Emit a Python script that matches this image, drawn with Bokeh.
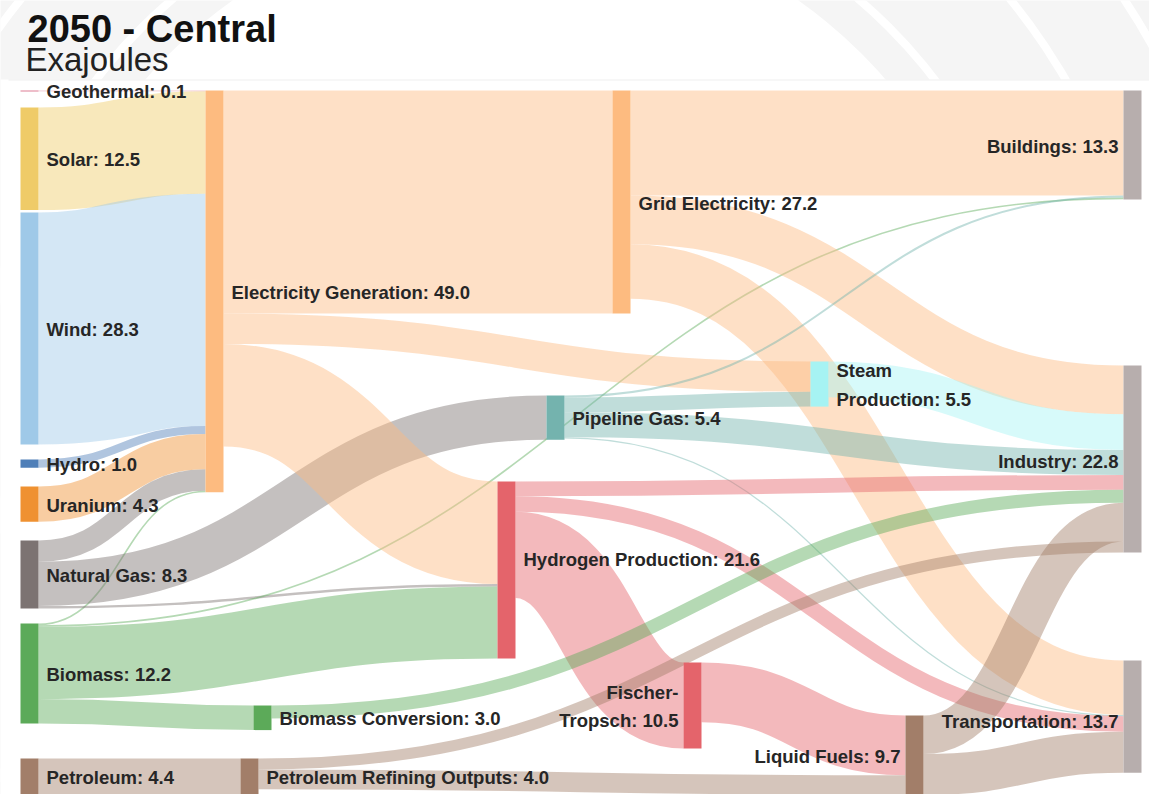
import numpy as np
from bokeh.plotting import figure
from bokeh.models import Range1d
from bokeh.embed import file_html
from bokeh.resources import INLINE
from bokeh.core.properties import value

# ---------------- data ----------------
title_text = "2050 - Central"
subtitle_text = "Exajoules"

node_names = ["Geothermal", "Solar", "Wind", "Hydro", "Uranium", "Natural Gas", "Biomass", "Petroleum",
              "Electricity Generation", "Biomass Conversion", "Petroleum Refining Outputs",
              "Hydrogen Production", "Pipeline Gas", "Grid Electricity", "Fischer-Tropsch",
              "Steam Production", "Liquid Fuels", "Buildings", "Industry", "Transportation"]
node_values = [0.1, 12.5, 28.3, 1.0, 4.3, 8.3, 12.2, 4.4,
               49.0, 3.0, 4.0,
               21.6, 5.4, 27.2, 10.5,
               5.5, 9.7, 13.3, 22.8, 13.7]

link_sources = ["Geothermal", "Solar", "Wind", "Hydro", "Uranium", "Natural Gas", "Biomass",
                "Natural Gas", "Natural Gas", "Biomass", "Biomass", "Biomass", "Petroleum",
                "Electricity Generation", "Electricity Generation", "Electricity Generation",
                "Grid Electricity", "Grid Electricity", "Grid Electricity",
                "Pipeline Gas", "Pipeline Gas", "Pipeline Gas", "Pipeline Gas",
                "Steam Production", "Hydrogen Production", "Hydrogen Production", "Hydrogen Production",
                "Biomass Conversion", "Fischer-Tropsch", "Petroleum Refining Outputs",
                "Petroleum Refining Outputs", "Liquid Fuels", "Liquid Fuels"]
link_targets = ["Electricity Generation"] * 7 + [
                "Pipeline Gas", "Hydrogen Production", "Buildings", "Hydrogen Production", "Biomass Conversion",
                "Petroleum Refining Outputs",
                "Grid Electricity", "Steam Production", "Hydrogen Production",
                "Buildings", "Industry", "Transportation",
                "Buildings", "Steam Production", "Industry", "Transportation",
                "Industry", "Industry", "Transportation", "Fischer-Tropsch",
                "Industry", "Liquid Fuels", "Liquid Fuels",
                "Industry", "Industry", "Transportation"]
link_values = [0.1, 12.5, 28.3, 1.0, 4.3, 2.6, 0.2,
               5.4, 0.3, 0.2, 8.8, 3.0, 4.4,
               27.2, 3.7, 12.5,
               12.8, 5.95, 6.65,
               0.25, 1.8, 3.05, 0.15,
               4.35, 1.8, 1.9, 10.5,
               1.6, 7.3, 2.4,
               1.35, 4.7, 5.0]

# ---------------- styling / layout ----------------
node_colors = {
    "Geothermal": "#DE7F95", "Solar": "#EFCB68", "Wind": "#9FC9E8", "Hydro": "#4F7FB8",
    "Uranium": "#EF9131", "Natural Gas": "#7C7372", "Biomass": "#5CAA59", "Petroleum": "#A27E69",
    "Electricity Generation": "#FDBB80", "Biomass Conversion": "#5CAA59",
    "Petroleum Refining Outputs": "#A27E69", "Hydrogen Production": "#E4646B",
    "Pipeline Gas": "#74B3AE", "Grid Electricity": "#FDBB80", "Fischer-Tropsch": "#E4646B",
    "Steam Production": "#A6F3F3", "Liquid Fuels": "#A27E69", "Buildings": "#B7AEAD",
    "Industry": "#B7AEAD", "Transportation": "#B7AEAD",
}
node_pos = {  # (left x, top y) in page pixels
    "Geothermal": (20, 90), "Solar": (20, 107), "Wind": (20, 212), "Hydro": (20, 459),
    "Uranium": (20, 486), "Natural Gas": (20, 540), "Biomass": (20, 623), "Petroleum": (20, 758),
    "Electricity Generation": (205, 90), "Biomass Conversion": (253, 705),
    "Petroleum Refining Outputs": (240, 758), "Hydrogen Production": (497, 481),
    "Pipeline Gas": (546, 395), "Grid Electricity": (612, 90), "Fischer-Tropsch": (683, 662),
    "Steam Production": (810, 361), "Liquid Fuels": (905, 715), "Buildings": (1123, 90),
    "Industry": (1123, 365), "Transportation": (1123, 660),
}
label_dy = {"Hydrogen Production": -12, "Transportation": 4, "Industry": 2}
left_side_labels = {"Buildings", "Industry", "Transportation", "Fischer-Tropsch", "Liquid Fuels"}
label_breaks = {"Steam Production": "Steam\nProduction", "Fischer-Tropsch": "Fischer-\nTropsch"}

W, H = 1149, 794
XS, XE = 0, 1149
YS, YE = 794, 0
K = 8.2        # pixels per exajoule
NW = 18        # node bar width
LINK_ALPHA = 0.45
px_per_unit = H / (YS - YE)
FONT = "Liberation Sans"

p = figure(width=W, height=H, x_range=Range1d(XS, XE), y_range=Range1d(YS, YE),
           output_backend="svg", toolbar_location=None, min_border=0,
           x_axis_location=None, y_axis_location=None, outline_line_color=None,
           background_fill_color="white", border_fill_color="white")
p.grid.visible = False

# faint watermark in the header
p.annulus(x=[515], y=[400], inner_radius=490, outer_radius=820, fill_color="#F5F5F5", line_color=None)
for r in (528, 637, 729):
    p.annulus(x=[515], y=[400], inner_radius=r - 4, outer_radius=r + 4, fill_color="white", line_color=None)
p.quad(left=[0], right=[1160], top=[79], bottom=[800], fill_color="white", line_color=None)
p.segment(x0=[8], y0=[79.5], x1=[1149], y1=[79.5], line_color="#EFEFEF", line_width=1)

# ---------------- sankey geometry ----------------
inflow = {n: 0.0 for n in node_names}
outflow = {n: 0.0 for n in node_names}
for s, t, v in zip(link_sources, link_targets, link_values):
    outflow[s] += v
    inflow[t] += v
node_h = {n: max(v, inflow[n], outflow[n]) * K for n, v in zip(node_names, node_values)}

idx = range(len(link_values))
sy, ty = {}, {}
for n in node_names:
    outs = sorted([i for i in idx if link_sources[i] == n], key=lambda i: (node_pos[link_targets[i]][1], i))
    off = node_pos[n][1]
    for i in outs:
        w = link_values[i] * K
        sy[i] = off + w / 2
        off += w
    ins = sorted([i for i in idx if link_targets[i] == n], key=lambda i: (node_pos[link_sources[i]][1], i))
    off = node_pos[n][1]
    for i in ins:
        w = link_values[i] * K
        ty[i] = off + w / 2
        off += w

bx0 = [node_pos[link_sources[i]][0] + NW for i in idx]
bx1 = [node_pos[link_targets[i]][0] for i in idx]
bxm = [(a + b) / 2 for a, b in zip(bx0, bx1)]
by0 = [sy[i] for i in idx]
by1 = [ty[i] for i in idx]
lw = [link_values[i] * K * px_per_unit for i in idx]
lc = [node_colors[link_sources[i]] for i in idx]
p.bezier(x0=bx0, y0=by0, x1=bx1, y1=by1, cx0=bxm, cy0=by0, cx1=bxm, cy1=by1,
         line_color=lc, line_alpha=LINK_ALPHA, line_width=lw, line_cap="butt")

# nodes
p.quad(left=[node_pos[n][0] for n in node_names],
       right=[node_pos[n][0] + NW for n in node_names],
       top=[node_pos[n][1] for n in node_names],
       bottom=[node_pos[n][1] + max(node_h[n], 0.9) for n in node_names],
       fill_color=[node_colors[n] for n in node_names], line_color=None)

# labels
def label(n, v):
    return f"{label_breaks.get(n, n)}: {v:.1f}"

rl = [(n, v) for n, v in zip(node_names, node_values) if n not in left_side_labels]
ll = [(n, v) for n, v in zip(node_names, node_values) if n in left_side_labels]
common = dict(text_font=value(FONT), text_font_style="bold", text_font_size="18.5px",
              text_color="#262626", text_baseline="middle", text_line_height=1.35)
p.text(x=[node_pos[n][0] + NW + 8 for n, _ in rl],
       y=[node_pos[n][1] + node_h[n] / 2 + 1 + label_dy.get(n, 0) for n, _ in rl],
       text=[label(n, v) for n, v in rl], text_align="left", **common)
p.text(x=[node_pos[n][0] - 5 for n, _ in ll],
       y=[node_pos[n][1] + node_h[n] / 2 + 1 + label_dy.get(n, 0) for n, _ in ll],
       text=[label(n, v) for n, v in ll], text_align="right", **common)

# title
p.text(x=[27], y=[28], text=[title_text], text_font=value("Liberation Sans"), text_font_style="bold",
       text_font_size="38px", text_color="#111111", text_baseline="middle", text_align="left")
p.text(x=[25], y=[59], text=[subtitle_text], text_font=value("Liberation Sans"),
       text_font_size="33px", text_color="#222222", text_baseline="middle", text_align="left")

open("out.html", "w").write(file_html(p, INLINE))
